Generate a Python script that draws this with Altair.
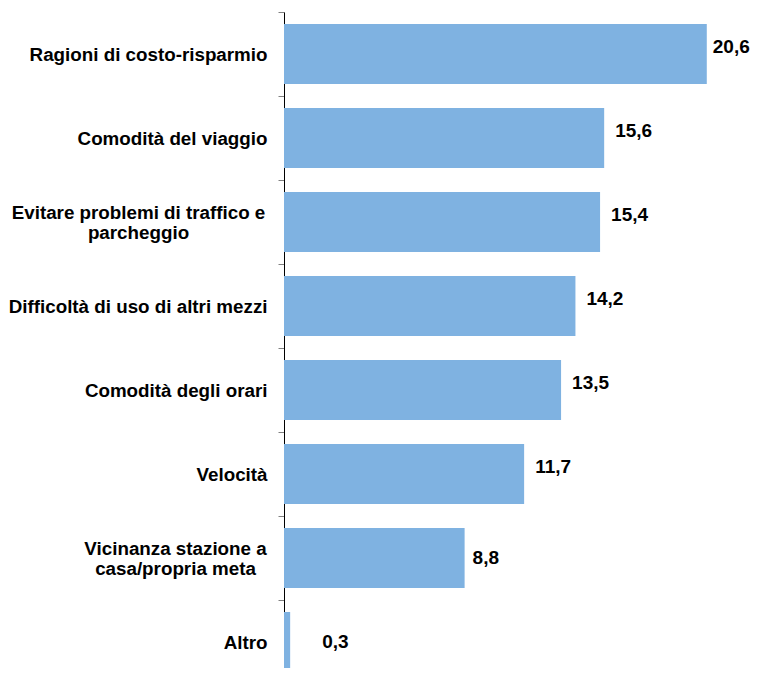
import altair as alt
import pandas as pd

categories = [
    "Ragioni di costo-risparmio",
    "Comodità del viaggio",
    "Evitare problemi di traffico e\nparcheggio",
    "Difficoltà di uso di altri mezzi",
    "Comodità degli orari",
    "Velocità",
    "Vicinanza stazione a\ncasa/propria meta",
    "Altro",
]
values = [20.6, 15.6, 15.4, 14.2, 13.5, 11.7, 8.8, 0.3]

df = pd.DataFrame({"motivo": categories, "valore": values})

FONT = "Liberation Sans"
MULTI = "indexof(datum.value, '\\n') >= 0"

y_axis = alt.Axis(
    title=None,
    domainColor="black",
    domainWidth=1,
    tickColor="#808080",
    tickSize=6,
    tickWidth=1,
    tickOffset=-42,
    labelOffset={"condition": {"test": MULTI, "value": 32}, "value": 42},
    labelFont=FONT,
    labelFontSize=18.8,
    labelFontWeight="bold",
    labelColor="black",
    labelLineHeight=20,
    labelLimit=0,
    labelBaseline="middle",
    labelExpr="split(datum.label, '\\n')",
    labelAlign={"condition": {"test": MULTI, "value": "center"}, "value": "right"},
    labelPadding={
        "condition": [
            {"test": "indexof(datum.value, 'Evitare') == 0", "value": 140},
            {"test": "indexof(datum.value, 'Vicinanza') == 0", "value": 103},
        ],
        "value": 11,
    },
)

y = alt.Y(
    "motivo:N",
    sort=categories,
    scale=alt.Scale(range=[4, 676], paddingInner=0.286, paddingOuter=0.143),
    axis=y_axis,
)
x = alt.X("valore:Q", scale=alt.Scale(domain=[0, 21], nice=False), axis=None)

base = alt.Chart(df).encode(y=y, x=x)

bars = base.mark_bar(color="#7FB2E1")

text_base = base.transform_calculate(
    lab="replace(format(datum.valore, '.1f'), '.', ',')"
)
text_style = dict(
    align="left",
    baseline="middle",
    font=FONT,
    fontSize=19,
    fontWeight="bold",
    color="black",
)

labels_top = text_base.transform_filter("datum.valore > 20").mark_text(
    dx=6, dy=-7, **text_style
).encode(text="lab:N")
labels_hi = text_base.transform_filter("datum.valore > 9 && datum.valore <= 20").mark_text(
    dx=11, dy=-7, **text_style
).encode(text="lab:N")
labels_mid = text_base.transform_filter("datum.valore <= 9 && datum.valore >= 1").mark_text(
    dx=8, **text_style
).encode(text="lab:N")
labels_lo = text_base.transform_filter("datum.valore < 1").mark_text(
    dx=32, **text_style
).encode(text="lab:N")

chart = (
    alt.layer(bars, labels_top, labels_hi, labels_mid, labels_lo)
    .properties(
        width=431,
        height=660,
        autosize=alt.AutoSizeParams(type="none"),
        padding={"left": 276, "top": 0, "right": 36, "bottom": 0},
        background="white",
    )
    .configure_view(stroke=None)
)

chart.save("out.html", embed_options={"renderer": "svg", "actions": False})
